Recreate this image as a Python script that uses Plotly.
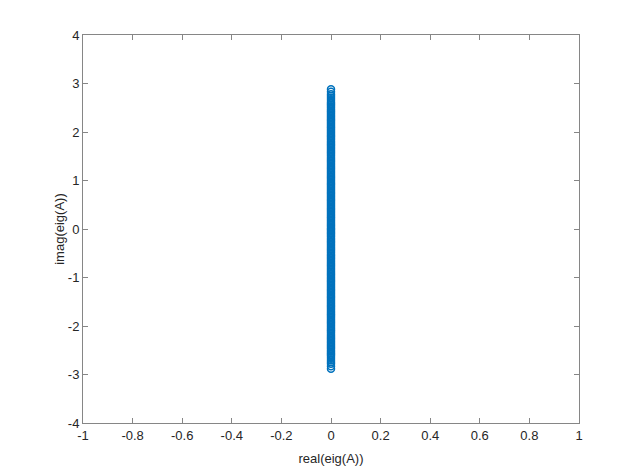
"""Eigenvalue scatter: imag vs real part of eig(A)."""
import plotly.graph_objects as go

# positive imaginary parts (spectrum is symmetric)
imag_pos = [2.88, 2.83, 2.78, 2.74, 2.70, 2.66, 2.62, 2.59, 2.56, 2.53,
            2.50, 2.47, 2.44, 2.41, 2.38, 2.35, 2.32, 2.29, 2.26, 2.23,
            2.20, 2.17, 2.14, 2.11, 2.08, 2.05, 2.02, 1.99, 1.96, 1.93,
            1.90, 1.87, 1.84, 1.81, 1.78, 1.75, 1.72, 1.69, 1.66, 1.63,
            1.60, 1.57, 1.54, 1.51, 1.48, 1.45, 1.42, 1.39, 1.36, 1.33,
            1.30, 1.27, 1.24, 1.21, 1.18, 1.15, 1.12, 1.09, 1.06, 1.03,
            1.00, 0.97, 0.94, 0.91, 0.88, 0.85, 0.82, 0.79, 0.76, 0.73,
            0.70, 0.67, 0.64, 0.61, 0.58, 0.55, 0.52, 0.49, 0.46, 0.43,
            0.40, 0.37, 0.34, 0.31, 0.28, 0.25, 0.22, 0.19, 0.16, 0.13,
            0.10, 0.07, 0.04, 0.01]
imag_vals = imag_pos + [-v for v in imag_pos]
real_vals = [0.0] * len(imag_vals)

x_ticks = [-1, -0.8, -0.6, -0.4, -0.2, 0, 0.2, 0.4, 0.6, 0.8, 1]
y_ticks = [-4, -3, -2, -1, 0, 1, 2, 3, 4]

axis_color = '#868686'
font = dict(family='Liberation Sans, Arial, sans-serif', size=13, color='#262626')

fig = go.Figure(go.Scatter(x=real_vals, y=imag_vals, mode='markers',
                           marker=dict(symbol='circle-open', size=7,
                                       color='#0072BD', line=dict(width=1.5))))

common = dict(showgrid=False, zeroline=False, showline=True, linecolor=axis_color,
              linewidth=1, mirror='ticks', ticks='inside', ticklen=5,
              tickcolor=axis_color, tickfont=font, automargin=False)

# plain hyphen for negatives, like MATLAB
fig.update_xaxes(range=[-1, 1], tickvals=x_ticks, ticktext=[f'{t:g}' for t in x_ticks],
                 title=dict(text='real(eig(A))', font=font, standoff=12), **common)
fig.update_yaxes(range=[-4, 4], tickvals=y_ticks, ticktext=[f'{t:g}' for t in y_ticks],
                 title=dict(text='imag(eig(A))', font=font, standoff=0), **common)

# page body adds an 8px offset, so the figure is sized to fit inside the window
fig.update_layout(width=625, height=459, margin=dict(l=75, r=54, t=27, b=44),
                  plot_bgcolor='white', paper_bgcolor='white', showlegend=False)

fig.write_html("out.html")
